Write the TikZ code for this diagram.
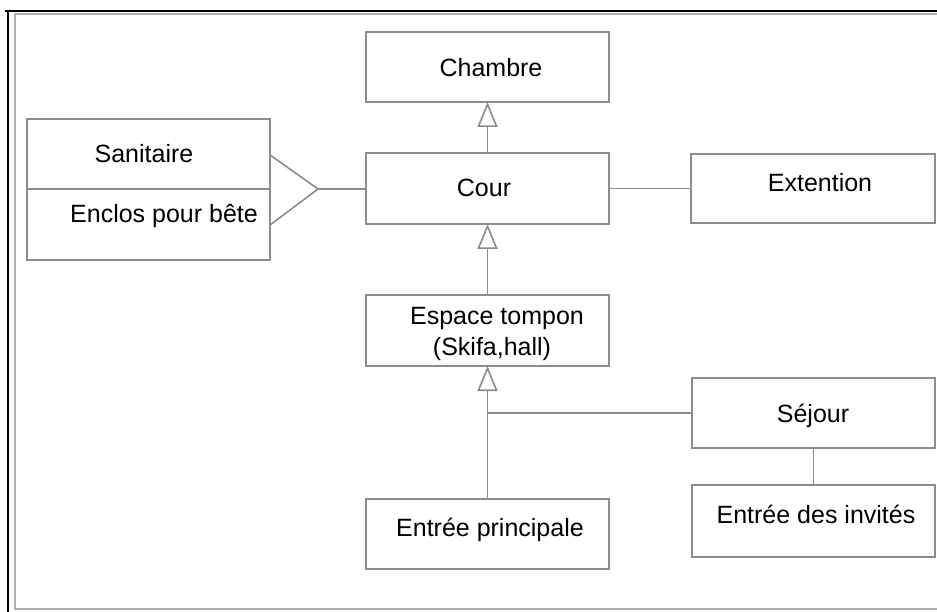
\documentclass[tikz,border=0pt]{standalone}
\usepackage{fontspec}
\setmainfont{Liberation Sans}
\usetikzlibrary{arrows.meta}
\definecolor{edgegrey}{RGB}{140,140,140}
\begin{document}
\begin{tikzpicture}[x=1pt,y=-1pt,
  box/.style={draw=edgegrey, line width=1.6pt, fill=white, rectangle,
    inner sep=0pt, outer sep=0pt, anchor=north west},
  lbl/.style={font=\fontsize{25}{30}\selectfont, anchor=base, inner sep=0pt},
  wire/.style={draw=edgegrey, line width=1.6pt},
  gen/.style={wire, -{Triangle[open, width=20pt, length=25pt, line width=1.6pt]}}]
  \useasboundingbox[fill=white] (0,0) rectangle (937,612);
  % page frame
  \draw[black, line width=2pt] (5,11) -- (937,11);
  \draw[black, line width=2pt] (8,11) -- (8,612);
  \draw[edgegrey!70, line width=1.5pt] (937,14) -- (15,14) -- (15,609) -- (937,609);

  % rooms
  \node[box, minimum width=243pt, minimum height=70pt] (chambre) at (366,32) {};
  \node[box, minimum width=243pt, minimum height=71pt] (cour) at (366,153) {};
  \node[box, minimum width=244pt, minimum height=69pt] (extention) at (691,154) {};
  \node[box, minimum width=243pt, minimum height=71pt] (espace) at (366,295) {};
  \node[box, minimum width=243pt, minimum height=70pt] (sejour) at (692,378) {};
  \node[box, minimum width=243pt, minimum height=70pt] (principale) at (366,499) {};
  \node[box, minimum width=243pt, minimum height=72pt] (invites) at (692,485) {};
  \node[box, minimum width=243pt, minimum height=141pt] (annexe) at (27,119) {};
  \draw[wire] (annexe.west |- 0,189) -- (annexe.east |- 0,189);

  % labels
  \node[lbl] (tchambre) at (491,77) {Chambre};
  \node[lbl] (tcour) at (484,197) {Cour};
  \node[lbl] (textention) at (820,192) {Extention};
  \node[lbl] (tsanitaire) at (144,163) {Sanitaire};
  \node[lbl] (tenclos) at (164,223) {Enclos pour bête};
  \node[lbl] (tespace1) at (497,325) {Espace tompon};
  \node[lbl] (tespace2) at (492,355) {(Skifa,hall)};
  \node[lbl] (tsejour) at (813,422) {Séjour};
  \node[lbl] (tinvites) at (816,523) {Entrée des invités};
  \node[lbl] (tprincipale) at (490,536) {Entrée principale};

  % connectors
  \draw[gen] (cour.north) -- (chambre.south);
  \draw[gen] (espace.north) -- (cour.south);
  \draw[gen] (principale.north) -- (espace.south);
  \coordinate (junction) at (principale.north |- sejour.west);
  \draw[wire] (junction) -- (sejour.west);
  \draw[wire] (sejour.south) -- (invites.north);
  \draw[wire] (cour.east) -- (extention.west);
  \coordinate (tip) at (318,189);
  \draw[wire, line join=miter] (annexe.east |- 0,155) -- (tip) -- (annexe.east |- 0,225);
  \draw[wire] (tip) -- (cour.west |- tip);
\end{tikzpicture}
\end{document}
